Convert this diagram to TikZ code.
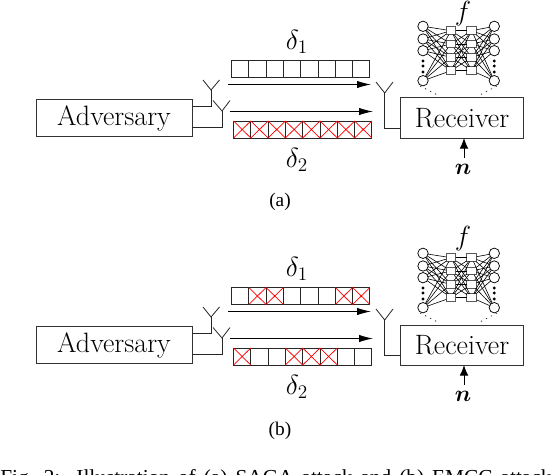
\documentclass[tikz,border=0pt]{standalone}
\usepackage{amsmath,amsbsy}
\usepackage{fontspec}
\newfontfamily\capfont{Liberation Serif}
\usetikzlibrary{arrows.meta}
\tikzset{
  line/.style={line width=0.7pt,draw=black!85},
  bigbox/.style={draw=black!80,line width=0.75pt,rectangle,inner sep=0pt,outer sep=0pt,font=\fontsize{21}{25}\selectfont},
  cell/.style={draw=black!85,line width=0.7pt,rectangle,inner sep=0pt,outer sep=0pt,minimum width=12.98pt,minimum height=12.75pt},
  xmark/.style={draw=red,line width=0.55pt},
  sig/.style={line width=0.7pt,draw=black,-{Latex[length=10.5pt,width=5.5pt]}},
  noise/.style={line width=0.7pt,draw=black,-{Latex[length=8pt,width=6.5pt]}},
  ant/.style={line width=0.6pt,draw=black!85},
  neuron/.style={circle,draw=black,line width=0.55pt,fill=white,inner sep=0pt,outer sep=0pt,minimum size=7.8pt},
  hid/.style={rectangle,draw=black!65,line width=0.75pt,fill=white,inner sep=0pt,outer sep=0pt,minimum width=7.2pt,minimum height=5.8pt},
  edge/.style={line width=0.45pt,draw=black},
  vdot/.style={circle,fill=black,inner sep=0pt,minimum size=2.4pt},
  link/.style={line width=0.6pt,draw=black!80,dash pattern=on 1pt off 3.2pt},
  sym/.style={font=\fontsize{20.5}{24}\selectfont,inner sep=0pt},
  fsym/.style={font=\fontsize{21}{25}\selectfont,inner sep=0pt},
  nsym/.style={font=\fontsize{18}{22}\selectfont,inner sep=0pt},
  sub/.style={font=\capfont\fontsize{14.5}{17}\selectfont,inner sep=0pt}
}
\newcommand{\panel}[7]{% prefix, y offset, red top, red bottom, sublabel, sublabel y, f y
\begin{scope}[yshift=#2]
  \node[bigbox,minimum width=117pt,minimum height=28pt] (#1adv) at (114,118.3) {Adversary};
  \node[bigbox,minimum width=92pt,minimum height=30pt] (#1rx) at (462,118) {Receiver};
  % antennas
  \coordinate (#1a1) at (211,90); \coordinate (#1a1l) at (203,80); \coordinate (#1a1r) at (219.5,80);
  \coordinate (#1a2) at (222,111); \coordinate (#1a2l) at (213,100.5); \coordinate (#1a2r) at (230,100.5);
  \coordinate (#1a3) at (384.7,93); \coordinate (#1a3l) at (376,82); \coordinate (#1a3r) at (393,82);
  \coordinate (#1o1) at (192,106.5); \coordinate (#1o2) at (192,127.5);
  \coordinate (#1o3) at (400.5,128);
  \draw[ant] (#1a1l) -- (#1a1) -- (#1a1r);
  \draw[ant] (#1a2l) -- (#1a2) -- (#1a2r);
  \draw[ant] (#1a3l) -- (#1a3) -- (#1a3r);
  \draw[line] (#1o1) -- (#1o1 -| #1a1) -- (#1a1);
  \draw[line] (#1o2) -- (#1o2 -| #1a2) -- (#1a2);
  \draw[line] (#1a3) -- (#1a3 |- #1o3) -- (#1o3);
  % signal arrows
  \coordinate (#1s1a) at (228,84.5); \coordinate (#1s1b) at (371,84.5);
  \coordinate (#1s2a) at (229.5,111.5); \coordinate (#1s2b) at (373,111.5);
  \draw[sig] (#1s1a) -- (#1s1b);
  \draw[sig] (#1s2a) -- (#1s2b);
  % slots
  \foreach \i in {1,...,8} {
    \node[cell] (#1t\i) at ({231.5+8.65+17.3*(\i-1)},69) {};
    \node[cell] (#1b\i) at ({233.5+8.65+17.3*(\i-1)},129.5) {};
  }
  \foreach \i in {#3} {
    \draw[xmark] (#1t\i.north west) -- (#1t\i.south east) (#1t\i.north east) -- (#1t\i.south west);
  }
  \foreach \i in {#4} {
    \draw[xmark] (#1b\i.north west) -- (#1b\i.south east) (#1b\i.north east) -- (#1b\i.south west);
  }
  \node[sym] (#1d1) at (297,42) {$\delta_1$};
  \node[sym] (#1d2) at (297,159.5) {$\delta_2$};
  % network
  \foreach \n/\y in {1/26.3,2/39,3/50.7,4/80.7} {
    \node[neuron] (#1l\n) at (423,\y) {};
    \node[neuron] (#1r\n) at (494.3,\y) {};
  }
  \foreach \n/\y in {1/30.7,2/44,3/57.3,4/70.7} {
    \node[hid] (#1p\n) at (451,\y) {};
    \node[hid] (#1q\n) at (471.7,\y) {};
  }
  \foreach \i in {1,...,4} \foreach \j in {1,...,4} {
    \draw[edge] (#1l\i) -- (#1p\j);
    \draw[edge] (#1p\i) -- (#1q\j);
    \draw[edge] (#1q\i) -- (#1r\j);
  }
  \foreach \y [count=\k] in {61,66,72} {
    \node[vdot] (#1vl\k) at (423,\y) {};
    \node[vdot] (#1vr\k) at (494.3,\y) {};
  }
  \node[fsym] (#1f) at (463,#7) {$f$};
  \coordinate (#1k1) at (420,86); \coordinate (#1k2) at (439.5,96);
  \coordinate (#1k3) at (497,86); \coordinate (#1k4) at (478,96);
  \draw[link] (#1k1) -- (#1k2);
  \draw[link] (#1k3) -- (#1k4);
  % noise
  \node[nsym] (#1n) at (463,169) {$\boldsymbol{n}$};
  \coordinate (#1nt) at (464,158);
  \draw[noise] (#1nt) -- (#1nt |- #1rx.south);
  \node[sub] (#1lab) at (280,#6) {#5};
\end{scope}}
\begin{document}
\begin{tikzpicture}[x=0.75pt,y=-0.75pt]
  \clip (0,0) rectangle (552,474);
  \fill[white] (0,0) rectangle (552,474);
  \panel{u}{0pt}{}{1,...,8}{(a)}{202}{14}
  \panel{v}{-170.25pt}{2,3,7,8}{1,4,5,6}{(b)}{204}{12}
  \node[font=\capfont\fontsize{16}{19}\selectfont,anchor=base west,inner sep=0pt] (cap) at (0,484) {\spaceskip=6pt Fig. 2:\hspace{12pt}Illustration of (a) SAGA attack and (b) EMCC attack};
\end{tikzpicture}
\end{document}
